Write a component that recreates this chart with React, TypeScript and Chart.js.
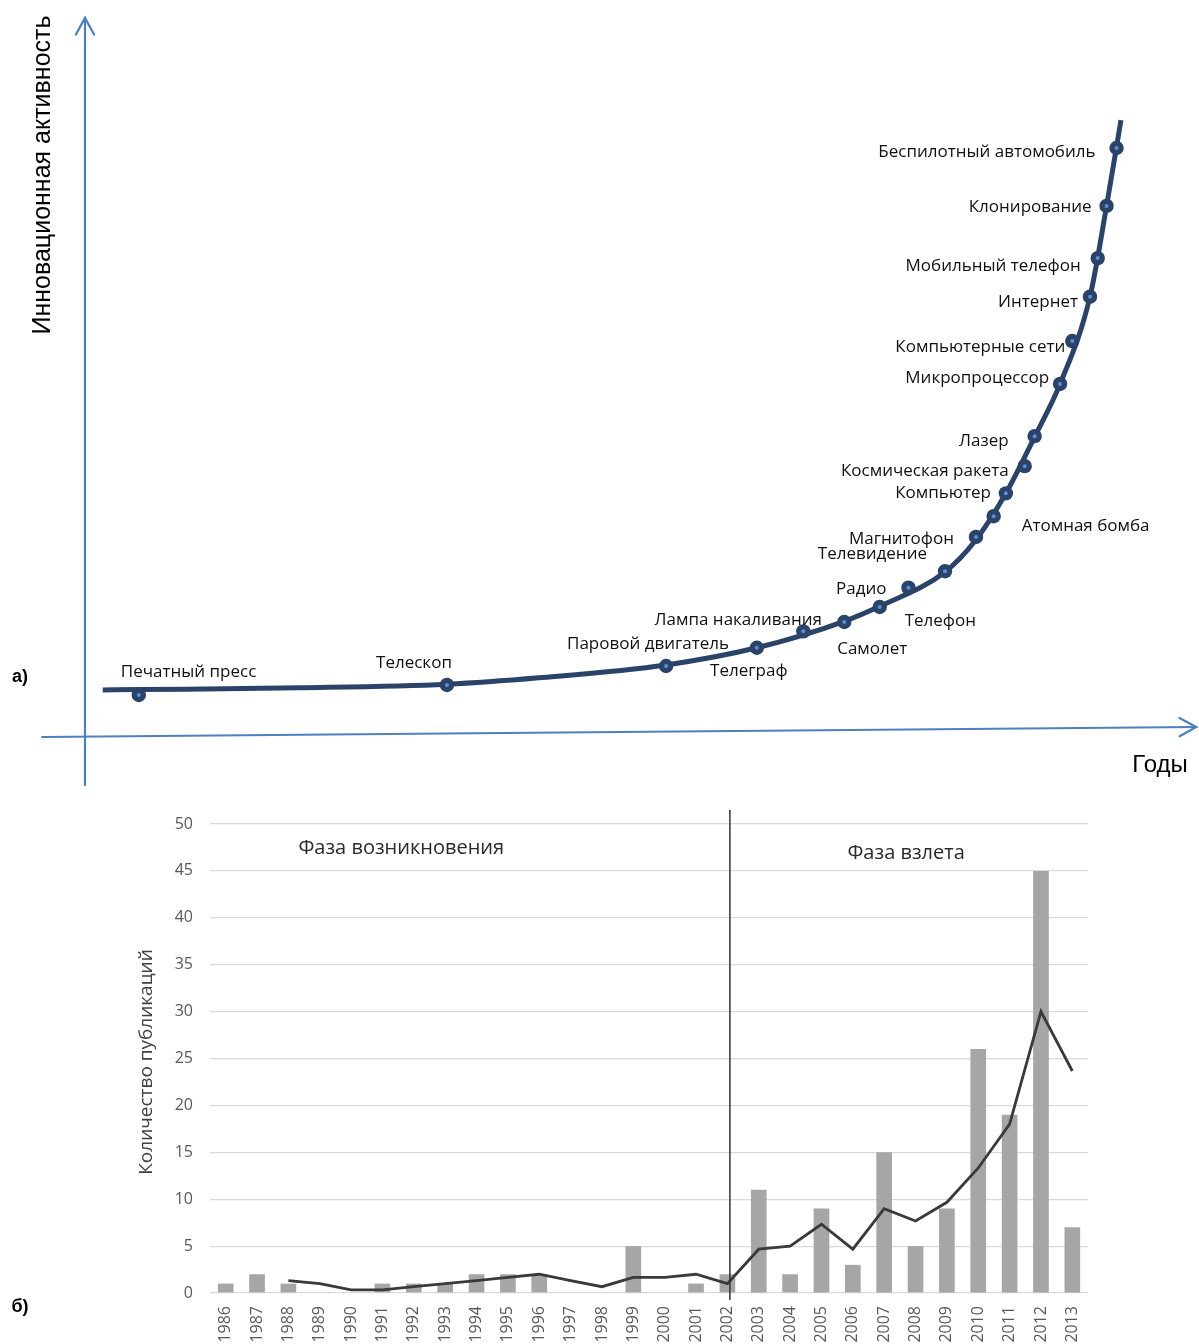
import React, { useEffect, useRef } from 'react';
import { Chart, registerables } from 'chart.js';

Chart.register(...registerables);

// ---------- Chart (a): innovation activity ----------
const innovations = [
  'Печатный пресс', 'Телескоп', 'Паровой двигатель', 'Телеграф', 'Лампа накаливания',
  'Самолет', 'Телефон', 'Радио', 'Телевидение', 'Магнитофон', 'Атомная бомба',
  'Компьютер', 'Космическая ракета', 'Лазер', 'Микропроцессор', 'Компьютерные сети',
  'Интернет', 'Мобильный телефон', 'Клонирование', 'Беспилотный автомобиль',
];
const innovationTime = [4.86, 32.7, 52.5, 60.7, 64.9, 68.6, 71.8, 74.4, 77.7, 80.5, 82.1, 83.2, 84.9, 85.8, 88.1, 89.2, 90.8, 91.5, 92.3, 93.2];
const innovationActivity = [5.6, 7.0, 9.65, 12.2, 14.5, 15.8, 17.9, 20.6, 22.9, 27.7, 30.6, 33.8, 37.6, 41.8, 49.1, 55.1, 61.3, 66.7, 74.0, 82.1];

const curveTime = [1.6, 4.9, 19.4, 32.7, 41.0, 52.5, 60.7, 68.6, 71.8, 77.7, 80.5, 83.2, 85.8, 88.1, 90.8, 92.3, 93.6];
const curveActivity = [6.3, 6.35, 6.6, 7.1, 8.0, 9.8, 12.2, 15.9, 18.0, 22.8, 27.3, 33.8, 41.7, 49.1, 61.3, 74.0, 86.0];

// label placement (style only): offset in px from marker, text alignment
const labelPlacement: { dx: number; dy: number; align: CanvasTextAlign }[] = [
  { dx: -18, dy: -23, align: 'left' },
  { dx: 5, dy: -22, align: 'right' },
  { dx: -18, dy: -22, align: 'center' },
  { dx: -8, dy: 23, align: 'center' },
  { dx: -65, dy: -11, align: 'center' },
  { dx: 28, dy: 27, align: 'center' },
  { dx: 25, dy: 14, align: 'left' },
  { dx: -22, dy: 1, align: 'right' },
  { dx: -18, dy: -17, align: 'right' },
  { dx: -22, dy: 2, align: 'right' },
  { dx: 28, dy: 10, align: 'left' },
  { dx: -15, dy: 0, align: 'right' },
  { dx: -16, dy: 5, align: 'right' },
  { dx: -26, dy: 5, align: 'right' },
  { dx: -11, dy: -6, align: 'right' },
  { dx: -7, dy: 6, align: 'right' },
  { dx: -12, dy: 5, align: 'right' },
  { dx: -17, dy: 8, align: 'right' },
  { dx: -15, dy: 1, align: 'right' },
  { dx: -21, dy: 4, align: 'right' },
];

// axis lines of chart (a) in data units
const yAxisLine = [{ x: 0, y: -7 }, { x: 0, y: 100.3 }];
const xAxisLine = [{ x: -3.87, y: -0.28 }, { x: 100.4, y: 1.12 }];

// ---------- Chart (b): publications ----------
const years = ['1986', '1987', '1988', '1989', '1990', '1991', '1992', '1993', '1994', '1995', '1996', '1997', '1998', '1999', '2000', '2001', '2002', '2003', '2004', '2005', '2006', '2007', '2008', '2009', '2010', '2011', '2012', '2013'];
const publications = [1, 2, 1, 0, 0, 1, 1, 1, 2, 2, 2, 0, 0, 5, 0, 1, 2, 11, 2, 9, 3, 15, 5, 9, 26, 19, 45, 7];
const trend = [null, null, 1.33, 1.0, 0.33, 0.33, 0.67, 1.0, 1.33, 1.67, 2.0, 1.33, 0.67, 1.67, 1.67, 2.0, 1.0, 4.67, 5.0, 7.33, 4.67, 9.0, 7.67, 9.67, 13.33, 18.0, 30.0, 23.67];
const yTicks = [0, 50, 5];
const phaseNames = ['Фаза возникновения', 'Фаза взлета'];
const phaseAnchorIndex = [5.6, 21.7];
const phaseAnchorValue = [47.4, 46.9];
const boundaryYear = '2002';

const NAVY = '#2c4369';
const AXIS_BLUE = '#4f7fbf';

function drawArrowHead(ctx: CanvasRenderingContext2D, x0: number, y0: number, x1: number, y1: number) {
  const ang = Math.atan2(y1 - y0, x1 - x0);
  const len = 19;
  const spread = 0.5;
  ctx.beginPath();
  ctx.moveTo(x1 - len * Math.cos(ang - spread), y1 - len * Math.sin(ang - spread));
  ctx.lineTo(x1, y1);
  ctx.lineTo(x1 - len * Math.cos(ang + spread), y1 - len * Math.sin(ang + spread));
  ctx.stroke();
}

const topPlugin = {
  id: 'topDecor',
  beforeDatasetsDraw(chart: any) {
    const { ctx, scales } = chart;
    const xs = scales.x, ys = scales.y;
    ctx.save();
    ctx.strokeStyle = AXIS_BLUE;
    ctx.lineWidth = 2.2;
    ctx.lineCap = 'round';
    for (const line of [yAxisLine, xAxisLine]) {
      const x0 = xs.getPixelForValue(line[0].x), y0 = ys.getPixelForValue(line[0].y);
      const x1 = xs.getPixelForValue(line[1].x), y1 = ys.getPixelForValue(line[1].y);
      ctx.beginPath();
      ctx.moveTo(x0, y0);
      ctx.lineTo(x1, y1);
      ctx.stroke();
      drawArrowHead(ctx, x0, y0, x1, y1);
    }
    ctx.restore();
  },
  afterDatasetsDraw(chart: any) {
    const { ctx, scales } = chart;
    const xs = scales.x, ys = scales.y;
    ctx.save();
    ctx.fillStyle = '#111';
    ctx.font = '17px "Open Sans"';
    ctx.textBaseline = 'middle';
    innovations.forEach((name, i) => {
      const p = labelPlacement[i];
      const px = xs.getPixelForValue(innovationTime[i]);
      const py = ys.getPixelForValue(innovationActivity[i]);
      ctx.textAlign = p.align;
      ctx.fillText(name, px + p.dx, py + p.dy);
    });
    // axis titles
    ctx.fillStyle = '#000';
    ctx.font = '25px "Liberation Sans"';
    ctx.textAlign = 'center';
    ctx.save();
    ctx.translate(43, 175);
    ctx.rotate(-Math.PI / 2);
    ctx.fillText('Инновационная активность', 0, 0);
    ctx.restore();
    ctx.font = '24px "Liberation Sans"';
    ctx.fillText('Годы', 1160, 765);
    ctx.font = 'bold 18px "Liberation Sans"';
    ctx.fillText('а)', 20, 677);
    ctx.restore();
  },
};

const bottomPlugin = {
  id: 'bottomDecor',
  afterDatasetsDraw(chart: any) {
    const { ctx, scales } = chart;
    const xs = scales.x, ys = scales.y;
    ctx.save();
    // phase boundary
    const bx = xs.getPixelForValue(years.indexOf(boundaryYear)) + 2.5;
    ctx.strokeStyle = '#333';
    ctx.lineWidth = 1.5;
    ctx.beginPath();
    ctx.moveTo(bx, ys.getPixelForValue(51.5));
    ctx.lineTo(bx, ys.getPixelForValue(0) + 7);
    ctx.stroke();
    // phase names
    ctx.fillStyle = '#2a2a2a';
    ctx.font = '20px "Open Sans"';
    ctx.textAlign = 'center';
    ctx.textBaseline = 'middle';
    phaseNames.forEach((n, i) => {
      ctx.fillText(n, xs.getPixelForValue(phaseAnchorIndex[i]), ys.getPixelForValue(phaseAnchorValue[i]));
    });
    // y title
    ctx.fillStyle = '#404040';
    ctx.font = '19px "Open Sans"';
    ctx.save();
    ctx.translate(147, 267);
    ctx.rotate(-Math.PI / 2);
    ctx.fillText('Количество публикаций', 0, 0);
    ctx.restore();
    ctx.fillStyle = '#000';
    ctx.font = 'bold 18px "Liberation Sans"';
    ctx.fillText('б)', 20, 512);
    ctx.restore();
  },
};

function TopChart() {
  const ref = useRef<HTMLCanvasElement>(null);
  useEffect(() => {
    if (!ref.current) return;
    const chart = new Chart(ref.current, {
      type: 'line',
      data: {
        datasets: [
          {
            type: 'scatter',
            data: innovationTime.map((t, i) => ({ x: t, y: innovationActivity[i] })),
            pointRadius: 2,
            pointBackgroundColor: '#5b8fd4',
            pointBorderWidth: 0,
            order: 0,
          } as any,
          {
            type: 'scatter',
            data: innovationTime.map((t, i) => ({ x: t, y: innovationActivity[i] })),
            pointRadius: 7.2,
            pointBackgroundColor: NAVY,
            pointBorderWidth: 0,
            order: 1,
          } as any,
          {
            type: 'line',
            data: curveTime.map((t, i) => ({ x: t, y: curveActivity[i] })),
            borderColor: NAVY,
            borderWidth: 5,
            pointRadius: 0,
            cubicInterpolationMode: 'monotone',
            fill: false,
            order: 2,
          } as any,
        ],
      },
      options: {
        animation: false,
        responsive: true,
        maintainAspectRatio: false,
        layout: { padding: { left: 85, right: 4, top: 20, bottom: 60 } },
        plugins: { legend: { display: false }, tooltip: { enabled: false } },
        scales: {
          x: { type: 'linear', min: 0, max: 100, display: false },
          y: { type: 'linear', min: 0, max: 100, display: false },
        },
      },
      plugins: [topPlugin],
    });
    return () => chart.destroy();
  }, []);
  return <canvas ref={ref} />;
}

function BottomChart() {
  const ref = useRef<HTMLCanvasElement>(null);
  useEffect(() => {
    if (!ref.current) return;
    const tickFont = { family: 'Open Sans', size: 16 };
    const chart = new Chart(ref.current, {
      type: 'bar',
      data: {
        labels: years,
        datasets: [
          {
            type: 'line',
            data: trend,
            borderColor: '#3a3a3a',
            borderWidth: 2.8,
            pointRadius: 0,
            tension: 0,
            order: 0,
          } as any,
          {
            type: 'bar',
            data: publications,
            backgroundColor: '#a6a6a6',
            barPercentage: 0.5,
            categoryPercentage: 1,
            order: 1,
          } as any,
        ],
      },
      options: {
        animation: false,
        responsive: true,
        maintainAspectRatio: false,
        layout: { padding: { top: 29, right: 111, bottom: 0, left: 0 } },
        plugins: { legend: { display: false }, tooltip: { enabled: false } },
        scales: {
          x: {
            grid: { display: false },
            border: { display: false },
            ticks: { minRotation: 90, maxRotation: 90, autoSkip: false, font: tickFont, color: '#595959', padding: 5 },
            afterFit: (s: any) => { s.height = 51; },
          },
          y: {
            min: yTicks[0],
            max: yTicks[1],
            ticks: { stepSize: yTicks[2], font: tickFont, color: '#595959', padding: 17 },
            grid: { color: '#d9d9d9', drawTicks: false, lineWidth: 1.2 },
            border: { display: false },
            afterFit: (s: any) => { s.width = 210; },
          },
        },
      },
      plugins: [bottomPlugin],
    });
    return () => chart.destroy();
  }, []);
  return <canvas ref={ref} />;
}

export default function App() {
  return (
    <div style={{ position: 'absolute', left: 0, top: 0, width: 1199, height: 1344, background: '#fff', overflow: 'hidden' }}>
      <div style={{ position: 'absolute', left: 0, top: 0, width: 1199, height: 795 }}>
        <TopChart />
      </div>
      <div style={{ position: 'absolute', left: 0, top: 795, width: 1199, height: 549 }}>
        <BottomChart />
      </div>
    </div>
  );
}
